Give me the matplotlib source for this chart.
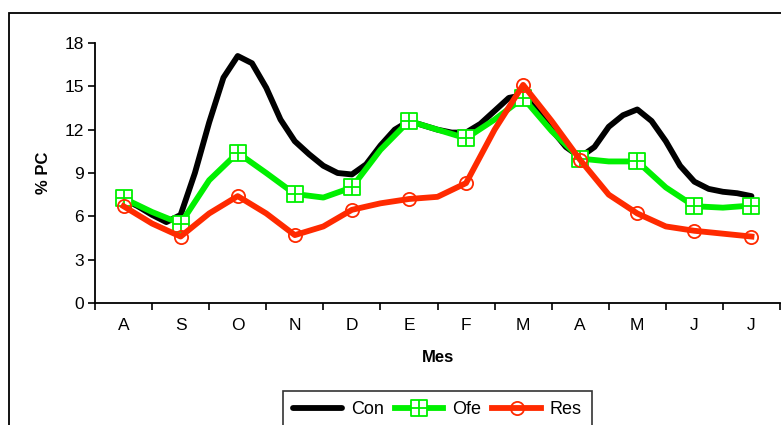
import numpy as np
import matplotlib
matplotlib.use("Agg")
import matplotlib.pyplot as plt
from matplotlib.path import Path
from matplotlib.patches import Rectangle

plt.rcParams['font.family'] = ['Liberation Sans', 'DejaVu Sans']

# month labels (Aug .. Jul)
months = ['A', 'S', 'O', 'N', 'D', 'E', 'F', 'M', 'A', 'M', 'J', 'J']

# Con: read every quarter month
con_x = np.arange(0, 11.01, 0.25)
con = [7.2, 6.7, 6.1, 5.6, 6.1, 9.0, 12.5, 15.6, 17.1, 16.6, 14.9, 12.7,
       11.2, 10.3, 9.5, 9.0, 8.9, 9.6, 10.9, 12.0, 12.6, 12.3, 12.0, 11.8,
       11.8, 12.4, 13.3, 14.2, 14.4, 13.3, 12.0, 10.8, 10.1, 10.8, 12.2, 13.0,
       13.4, 12.6, 11.2, 9.5, 8.4, 7.9, 7.7, 7.6, 7.4]

# Ofe and Res: read every half month (markers on the months)
half_x = np.arange(0, 11.01, 0.5)
ofe = [7.25, 6.3, 5.5, 8.5, 10.4, 9.0, 7.55, 7.3, 8.0, 10.6, 12.6, 12.0,
       11.4, 12.7, 14.2, 11.9, 10.0, 9.8, 9.8, 8.0, 6.7, 6.6, 6.75]
res = [6.7, 5.5, 4.6, 6.2, 7.4, 6.2, 4.7, 5.3, 6.45, 6.9, 7.2, 7.35,
       8.3, 12.0, 15.1, 12.6, 9.9, 7.5, 6.2, 5.3, 5.0, 4.8, 4.6]

green = '#00F000'
red = '#FF2A00'

# square with a cross inside
verts = [(-1, -1), (1, -1), (1, 1), (-1, 1), (-1, -1),
         (0, -1), (0, 1), (-1, 0), (1, 0)]
codes = [Path.MOVETO, Path.LINETO, Path.LINETO, Path.LINETO, Path.CLOSEPOLY,
         Path.MOVETO, Path.LINETO, Path.MOVETO, Path.LINETO]
box_plus = Path(verts, codes)

fig = plt.figure(figsize=(7.81, 4.25), dpi=100)
ax = fig.add_axes([95 / 781, 1 - 303 / 425, 685 / 781, 260 / 425])

ax.plot(con_x, con, color='black', lw=4.2, solid_joinstyle='round',
        solid_capstyle='round', label='Con')
ax.plot(half_x, ofe, color=green, lw=4.2, solid_joinstyle='round',
        marker=box_plus, markevery=2, markersize=11, markerfacecolor='white',
        markeredgecolor=green, markeredgewidth=1.3, label='Ofe')
ax.plot(half_x, res, color=red, lw=4.2, solid_joinstyle='round',
        marker='o', markevery=2, markersize=9.5, markerfacecolor='none',
        markeredgecolor=red, markeredgewidth=1.3, label='Res')

ax.set_xlim(-0.5, 11.5)
ax.set_ylim(0, 18)
ax.set_yticks(np.arange(0, 19, 3))
ax.set_xticks(np.arange(-0.5, 11.6, 1))
ax.set_xticklabels([])
ax.set_xticks(np.arange(12), minor=True)
ax.set_xticklabels(months, minor=True)
ax.tick_params(axis='x', which='major', direction='out', length=5, width=1.2)
ax.tick_params(axis='x', which='minor', length=0, pad=11, labelsize=12.5)
ax.tick_params(axis='y', direction='out', length=5, width=1.2, labelsize=12.5, pad=3)

for s in ['top', 'right']:
    ax.spines[s].set_visible(False)
for s in ['left', 'bottom']:
    ax.spines[s].set_linewidth(1.3)

ax.set_xlabel('Mes', fontweight='bold', fontsize=12, labelpad=12)
ax.set_ylabel('% PC', fontweight='bold', fontsize=12, labelpad=10)

leg = ax.legend(loc='upper center', bbox_to_anchor=(0.5, -0.34), ncol=3,
                frameon=True, fancybox=False, numpoints=1, fontsize=13,
                handlelength=2.7, handletextpad=0.5, columnspacing=0.6,
                borderpad=0.55, borderaxespad=0)
leg.get_frame().set_edgecolor('black')
leg.get_frame().set_linewidth(1.2)

# outer chart frame (cut at right and bottom)
fig.patches.append(Rectangle((9 / 781, -0.2), 1.2, 1.2 - 13 / 425,
                             transform=fig.transFigure, fill=False,
                             edgecolor='black', lw=1.3))

fig.savefig('out.png', dpi=100)
